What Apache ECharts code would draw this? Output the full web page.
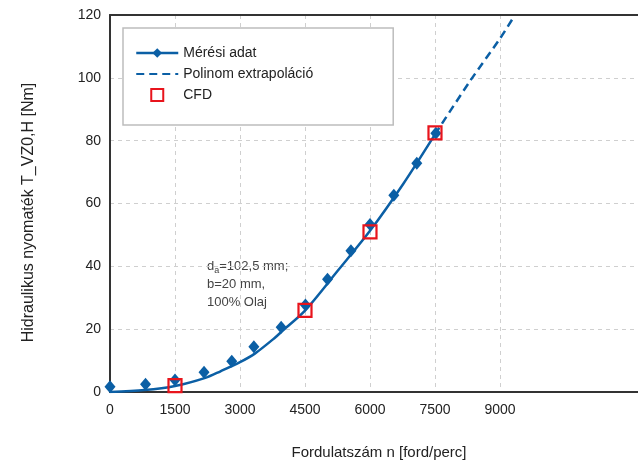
<!DOCTYPE html>
<html>
<head>
<meta charset="utf-8">
<script src="https://cdn.jsdelivr.net/npm/echarts@6/dist/echarts.min.js"></script>
<style>html,body{margin:0;padding:0;background:#fff}#c{width:638px;height:463px}</style>
</head>
<body>
<div id="c"></div>
<script>
// Measured data (rpm, Nm)
const measuredX = [0, 820, 1500, 2170, 2810, 3320, 3950, 4510, 5020, 5560, 6000, 6550, 7080, 7520];
const measuredY = [1.7, 2.5, 3.8, 6.3, 9.8, 14.4, 20.6, 27.7, 35.9, 45.0, 53.3, 62.6, 72.8, 82.4];
// Polynomial fit, solid part
const fitX = [0, 800, 1500, 2200, 2550, 3000, 3350, 3800, 4000, 4500, 5250, 6000, 6770, 7500];
const fitY = [0, 0.6, 1.9, 4.5, 6.6, 9.5, 12.3, 17.2, 19.7, 25.9, 38.5, 51.3, 66.3, 82.0];
// Extrapolated part (dashed)
const extX = [7500, 8300, 9000, 9300];
const extY = [82.0, 98.8, 112.5, 119.0];
// CFD results
const cfdX = [1500, 4500, 6000, 7500];
const cfdY = [2.0, 26.0, 51.0, 82.5];
// Axis ticks
const xTicks = [0, 1500, 3000, 4500, 6000, 7500, 9000];
const yTicks = [0, 20, 40, 60, 80, 100, 120];
const xAxisMax = 12185;

const zip = (a, b) => a.map((v, i) => [v, b[i]]);
const BLUE = '#0b5fa5';
const RED = '#e8141c';
const font = 'Liberation Sans, Arial, sans-serif';
const xStep = xTicks[1] - xTicks[0];
const xLabelMax = xTicks[xTicks.length - 1];

const chart = echarts.init(document.getElementById('c'), null, {renderer: 'canvas'});
chart.setOption({
  animation: false,
  textStyle: {fontFamily: font},
  grid: [
    {left: 110, top: 15, bottom: 71, right: 0, show: false, containLabel: false, outerBoundsMode: 'none'},
    {left: 110, top: 15, bottom: 71, width: 390, show: false, outerBoundsMode: 'none'}
  ],
  xAxis: [
    {
      type: 'value', gridIndex: 0, min: 0, max: xAxisMax, interval: xStep,
      name: 'Fordulatszám n [ford/perc]', nameLocation: 'middle', nameGap: 53,
      nameTextStyle: {fontSize: 15, color: '#222', fontFamily: font, padding: [0, 0, 0, 10]},
      axisLine: {lineStyle: {color: '#333', width: 2}},
      axisTick: {show: false},
      splitLine: {show: false},
      axisLabel: {fontSize: 14, color: '#222', margin: 11, showMaxLabel: false,
        formatter: v => (v <= xLabelMax ? String(v) : '')}
    },
    {
      type: 'value', gridIndex: 1, min: 0, max: xLabelMax, interval: xStep,
      axisLine: {show: false}, axisTick: {show: false}, axisLabel: {show: false},
      splitLine: {show: true, lineStyle: {color: '#cfcfcf', type: [4, 4], width: 1}}
    },
    {
      type: 'value', gridIndex: 0, position: 'top', min: 0, max: xAxisMax,
      axisLine: {show: true, onZero: false, lineStyle: {color: '#333', width: 2}},
      axisTick: {show: false}, axisLabel: {show: false}, splitLine: {show: false}
    }
  ],
  yAxis: [
    {
      type: 'value', gridIndex: 0, min: yTicks[0], max: yTicks[yTicks.length - 1], interval: yTicks[1] - yTicks[0],
      name: 'Hidraulikus nyomaték T_VZ0,H [Nm]', nameLocation: 'middle', nameGap: 73, nameRotate: 90,
      nameTextStyle: {fontSize: 16, color: '#222', fontFamily: font, padding: [0, 18, 0, 0]},
      axisLine: {show: true, lineStyle: {color: '#333', width: 2}},
      axisTick: {show: false},
      axisLabel: {fontSize: 14, color: '#222', margin: 9},
      splitLine: {show: true, lineStyle: {color: '#cfcfcf', type: [4, 4], width: 1}}
    },
    {type: 'value', gridIndex: 1, min: 0, max: 120, show: false}
  ],
  legend: {
    orient: 'vertical', left: 123, top: 28,
    padding: [18, 80, 23, 12],
    itemWidth: 42, itemHeight: 12, itemGap: 7,
    backgroundColor: '#fff', borderColor: '#bdbdbd', borderWidth: 1.5,
    textStyle: {fontSize: 14, color: '#222', fontFamily: font},
    data: [
      {name: 'Mérési adat', lineStyle: {color: BLUE, width: 2.5, opacity: 1, type: 'solid'}},
      {name: 'Polinom extrapoláció', itemStyle: {opacity: 0}},
      {name: 'CFD', icon: 'path://M0,0H10V10H0Z'}
    ]
  },
  series: [
    {
      name: 'Mérési adat (illesztés)', type: 'line', xAxisIndex: 0, yAxisIndex: 0,
      data: zip(fitX, fitY), smooth: 0.3, symbol: 'none',
      lineStyle: {color: BLUE, width: 2.5}, z: 2
    },
    {
      name: 'Polinom extrapoláció', type: 'line', xAxisIndex: 0, yAxisIndex: 0,
      data: zip(extX, extY), smooth: 0.3, symbol: 'none',
      itemStyle: {color: BLUE},
      lineStyle: {color: BLUE, width: 2.5, type: [8, 5]}, z: 2
    },
    {
      name: 'Mérési adat', type: 'line', xAxisIndex: 0, yAxisIndex: 0,
      data: zip(measuredX, measuredY), symbol: 'diamond', symbolSize: [11, 13],
      itemStyle: {color: BLUE},
      lineStyle: {width: 0, opacity: 0, color: BLUE}, z: 3
    },
    {
      name: 'CFD', type: 'scatter', xAxisIndex: 0, yAxisIndex: 0,
      data: zip(cfdX, cfdY), symbol: 'path://M0,0H10V10H0Z', symbolSize: 13,
      itemStyle: {color: 'transparent', borderColor: RED, borderWidth: 2.2, opacity: 1}, z: 4
    }
  ],
  graphic: [
    {
      type: 'text', left: 207, top: 260,
      style: {
        text: '{n|d}{s|a}{n|=102,5 mm;}\n{n|b=20 mm,}\n{n|100% Olaj}',
        rich: {
          n: {fontSize: 13, fill: '#444', fontFamily: font, lineHeight: 18},
          s: {fontSize: 9, fill: '#444', fontFamily: font, lineHeight: 18, verticalAlign: 'bottom', padding: [4, 0, 0, 0]}
        }
      }
    }
  ]
});
</script>
</body>
</html>
